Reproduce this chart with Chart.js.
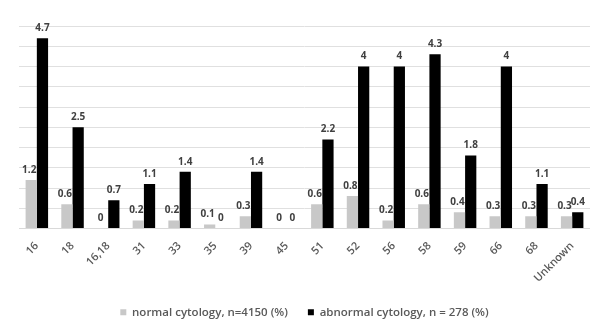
<!DOCTYPE html>
<html>
<head>
<meta charset="utf-8">
<script src="https://cdn.jsdelivr.net/npm/chart.js@4"></script>
<style>
  html, body { margin: 0; padding: 0; background: #fff; }
  #wrap { width: 590px; height: 320px; position: relative; }
</style>
</head>
<body>
<div id="wrap"><canvas id="hpvChart"></canvas></div>
<script>
// HPV types
const categories = ['16', '18', '16,18', '31', '33', '35', '39', '45', '51', '52', '56', '58', '59', '66', '68', 'Unknown'];
const normalValues = [1.2, 0.6, 0, 0.2, 0.2, 0.1, 0.3, 0, 0.6, 0.8, 0.2, 0.6, 0.4, 0.3, 0.3, 0.3];
const abnormalValues = [4.7, 2.5, 0.7, 1.1, 1.4, 0, 1.4, 0, 2.2, 4, 4, 4.3, 1.8, 4, 1.1, 0.4];
const seriesNames = ['normal cytology, n=4150 (%)', 'abnormal cytology, n = 278 (%)'];

const fontFamily = '"Open Sans", "Liberation Sans", Arial, sans-serif';
const textGray = '#595959';

// value labels above bars
const barLabels = {
  id: 'barLabels',
  afterDatasetsDraw(chart) {
    const c = chart.ctx;
    c.save();
    c.font = 'bold 10px ' + fontFamily;
    c.fillStyle = '#404040';
    c.textAlign = 'center';
    c.textBaseline = 'bottom';
    chart.data.datasets.forEach((ds, i) => {
      chart.getDatasetMeta(i).data.forEach((bar, j) => {
        const shift = i === 0 ? -2 : 0;
        c.fillText(String(ds.data[j]), bar.x + shift, bar.y - 5);
      });
    });
    c.restore();
  }
};

const ctx = document.getElementById('hpvChart').getContext('2d');
const chart = new Chart(ctx, {
  type: 'bar',
  data: {
    labels: categories,
    datasets: [{
      label: seriesNames[0],
      data: normalValues,
      backgroundColor: '#c8c8c8',
      categoryPercentage: 0.63,
      barPercentage: 1.0
    }, {
      label: seriesNames[1],
      data: abnormalValues,
      backgroundColor: '#000000',
      categoryPercentage: 0.63,
      barPercentage: 1.0
    }]
  },
  options: {
    responsive: true,
    maintainAspectRatio: false,
    animation: false,
    layout: { padding: { top: 26, left: 19, right: 0, bottom: -8 } },
    plugins: {
      legend: {
        position: 'bottom',
        labels: {
          boxWidth: 6,
          boxHeight: 6,
          padding: 20,
          color: textGray,
          font: { family: fontFamily, size: 11.5, weight: '600' }
        }
      },
      tooltip: { enabled: false }
    },
    scales: {
      x: {
        afterFit(scale) { scale.height = 58; },
        grid: { display: false },
        border: { color: '#d9d9d9' },
        ticks: {
          minRotation: 45,
          maxRotation: 45,
          autoSkip: false,
          color: textGray,
          font: { family: fontFamily, size: 11, weight: '600' }
        }
      },
      y: {
        min: 0,
        max: 5,
        ticks: { display: false, stepSize: 0.5 },
        grid: { color: '#e0e0e0', drawTicks: false },
        border: { display: false }
      }
    }
  },
  plugins: [barLabels]
});
</script>
</body>
</html>
